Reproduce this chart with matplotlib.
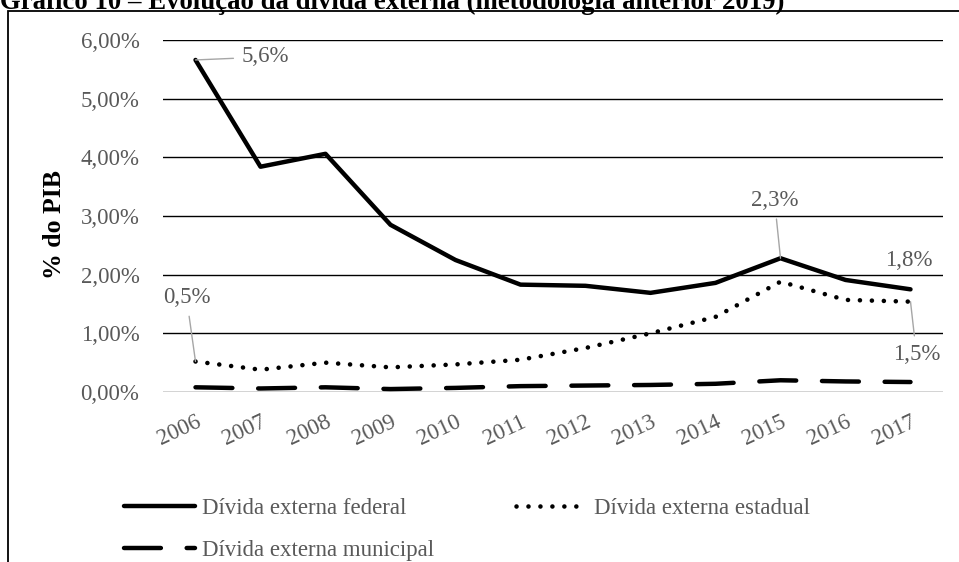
import matplotlib
matplotlib.use("Agg")
import matplotlib.pyplot as plt
from matplotlib.patches import Rectangle

# dados (% do PIB)
anos = ["2006", "2007", "2008", "2009", "2010", "2011", "2012",
        "2013", "2014", "2015", "2016", "2017"]
federal = [5.66, 3.84, 4.06, 2.85, 2.25, 1.83, 1.81, 1.69, 1.86, 2.28, 1.91, 1.75]
estadual = [0.52, 0.38, 0.50, 0.42, 0.47, 0.55, 0.75, 1.00, 1.28, 1.88, 1.57, 1.54]
municipal = [0.08, 0.06, 0.08, 0.05, 0.07, 0.10, 0.11, 0.12, 0.14, 0.20, 0.18, 0.17]
yticks = [0, 1, 2, 3, 4, 5, 6]
ytick_labels = ["0,00%", "1,00%", "2,00%", "3,00%", "4,00%", "5,00%", "6,00%"]

plt.rcParams['font.family'] = ['Liberation Serif', 'DejaVu Serif']
cinza = '#595959'
fs = 16.5

W, H = 959, 562
fig = plt.figure(figsize=(W / 100, H / 100), dpi=100)
ax = fig.add_axes([163 / W, 1 - 392 / H, 780 / W, 352 / H])

x = list(range(len(anos)))
l1, = ax.plot(x, federal, color='black', lw=3.2, solid_capstyle='round',
              solid_joinstyle='round', label='Dívida externa federal')
l2, = ax.plot(x, estadual, color='black', lw=3.3, linestyle=(0, (0.01, 2.6)),
              dash_capstyle='round', label='Dívida externa estadual')
l3, = ax.plot(x, municipal, color='black', lw=3.2, linestyle=(0, (8.3, 5.8)),
              dash_capstyle='round', label='Dívida externa municipal')

ax.set_xlim(-0.5, len(anos) - 0.5)
ax.set_ylim(0, 6)
ax.set_yticks(yticks)
ax.set_yticklabels(ytick_labels)
ax.set_xticks(x)
ax.set_xticklabels(anos, rotation=25, ha='right', rotation_mode='anchor')
ax.tick_params(axis='both', length=0, labelsize=fs, labelcolor=cinza)
ax.tick_params(axis='y', pad=17)
ax.tick_params(axis='x', pad=14)

for v in yticks[1:]:
    ax.axhline(v, color='black', lw=1.0, zorder=0)
ax.axhline(0, color='#d0d0d0', lw=1.3, zorder=0)
for s in ax.spines.values():
    s.set_visible(False)

ax.set_ylabel('% do PIB', fontsize=18.5, fontweight='bold')
ax.yaxis.set_label_coords(-0.124, 0.477)

# rótulos de dados
rotulos = [
    (0, federal[0], '5,6%', (70, 3), True),
    (0, estadual[0], '0,5%', (-9, 64), True),
    (9, federal[9], '2,3%', (-6, 58), True),
    (11, federal[11], '1,8%', (-2, 29), False),
    (11, estadual[11], '1,5%', (6, -53), True),
]
for xi, yi, txt, off, seta in rotulos:
    ax.annotate(txt, xy=(xi, yi), xytext=off, textcoords='offset pixels',
                ha='center', va='center', fontsize=fs, color=cinza,
                arrowprops=dict(arrowstyle='-', color='#a6a6a6', lw=1.0,
                                shrinkA=4, shrinkB=0) if seta else None)

# legenda (ordem por colunas: federal e municipal na 1a, estadual na 2a)
fig.legend(handles=[l1, l3, l2], loc='upper left',
           bbox_to_anchor=(103 / W, 1 - 477 / H), ncol=2, frameon=False,
           fontsize=16.5, labelcolor=cinza, handlelength=3.1,
           handletextpad=0.3, columnspacing=3.6, labelspacing=0.95)

# título (cortado no topo) e moldura
fig.text(0, 1 - 9 / H, 'Gráfico 10 – Evolução da dívida externa (metodologia anterior 2019)',
         fontsize=19.3, fontweight='bold', va='baseline', ha='left')
fig.add_artist(Rectangle((8 / W, -0.1), 1.1, 1.1 - 10.5 / H, transform=fig.transFigure,
                         fill=False, edgecolor='black', lw=1.3))

fig.savefig('out.png', dpi=100)
